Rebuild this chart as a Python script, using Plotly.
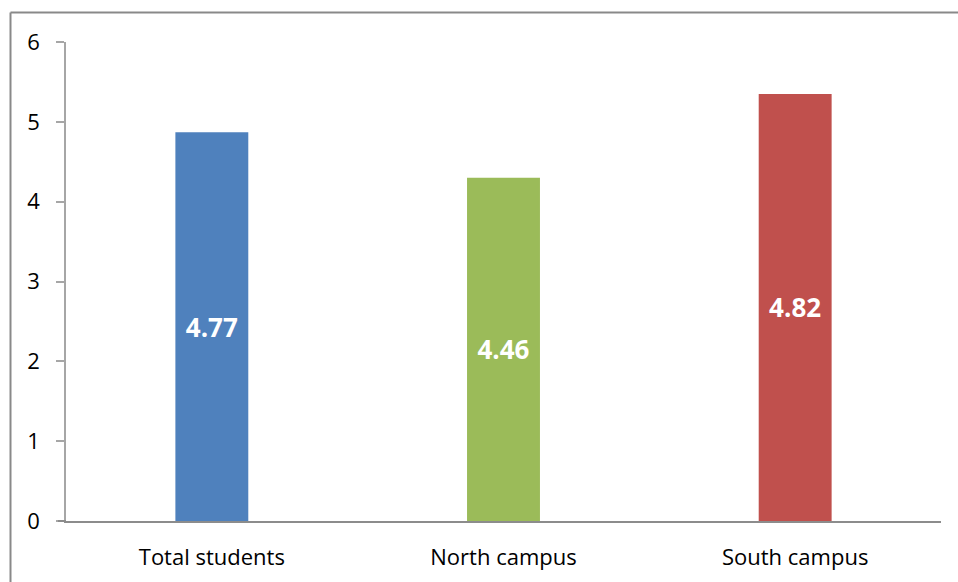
import plotly.graph_objects as go

categories = ["Total students", "North campus", "South campus"]
bar_heights = [4.87, 4.30, 5.35]
bar_labels = ["4.77", "4.46", "4.82"]
bar_colors = ["#4F81BD", "#9BBB59", "#C0504D"]
y_ticks = [0, 1, 2, 3, 4, 5, 6]

fig = go.Figure(go.Bar(
    x=categories, y=bar_heights, text=bar_labels,
    marker=dict(color=bar_colors, line=dict(width=0)),
    textposition="inside", insidetextanchor="middle",
    textfont=dict(color="white", size=26, family="Open Sans"),
    texttemplate="<b>%{text}</b>",
))

W, H = 958, 582
L, R, T, B = 66, 17, 42, 61
pw, ph = W - L - R, H - T - B
def px(x): return (x - L) / pw
def py(y): return (H - B - y) / ph

fig.update_layout(
    width=W, height=H, margin=dict(l=L, r=R, t=T, b=B),
    paper_bgcolor="white", plot_bgcolor="white",
    bargap=0.75, showlegend=False,
    font=dict(family="Open Sans", size=22, color="black"),
    xaxis=dict(showline=True, linecolor="#8C8C8C", linewidth=2, ticks="",
               tickfont=dict(size=22), showgrid=False, ticklabelstandoff=16),
    yaxis=dict(range=[0, 6], tickvals=y_ticks, showline=True, linecolor="#A6A6A6",
               linewidth=1.5, ticks="outside", ticklen=8, tickcolor="#A6A6A6",
               tickwidth=1.5, showgrid=False, zeroline=False, ticklabelstandoff=12,
               tickfont=dict(size=22)),
    shapes=[
        dict(type="line", xref="paper", yref="paper", x0=px(10.5), x1=px(958), y0=py(12.5), y1=py(12.5),
             line=dict(color="#898989", width=2)),
        dict(type="line", xref="paper", yref="paper", x0=px(10.5), x1=px(10.5), y0=py(12.5), y1=py(582),
             line=dict(color="#898989", width=2)),
        dict(type="line", xref="paper", yref="paper", x0=px(58), x1=px(66), y0=0, y1=0,
             line=dict(color="#8C8C8C", width=2)),
    ],
)
fig.write_html("out.html")
